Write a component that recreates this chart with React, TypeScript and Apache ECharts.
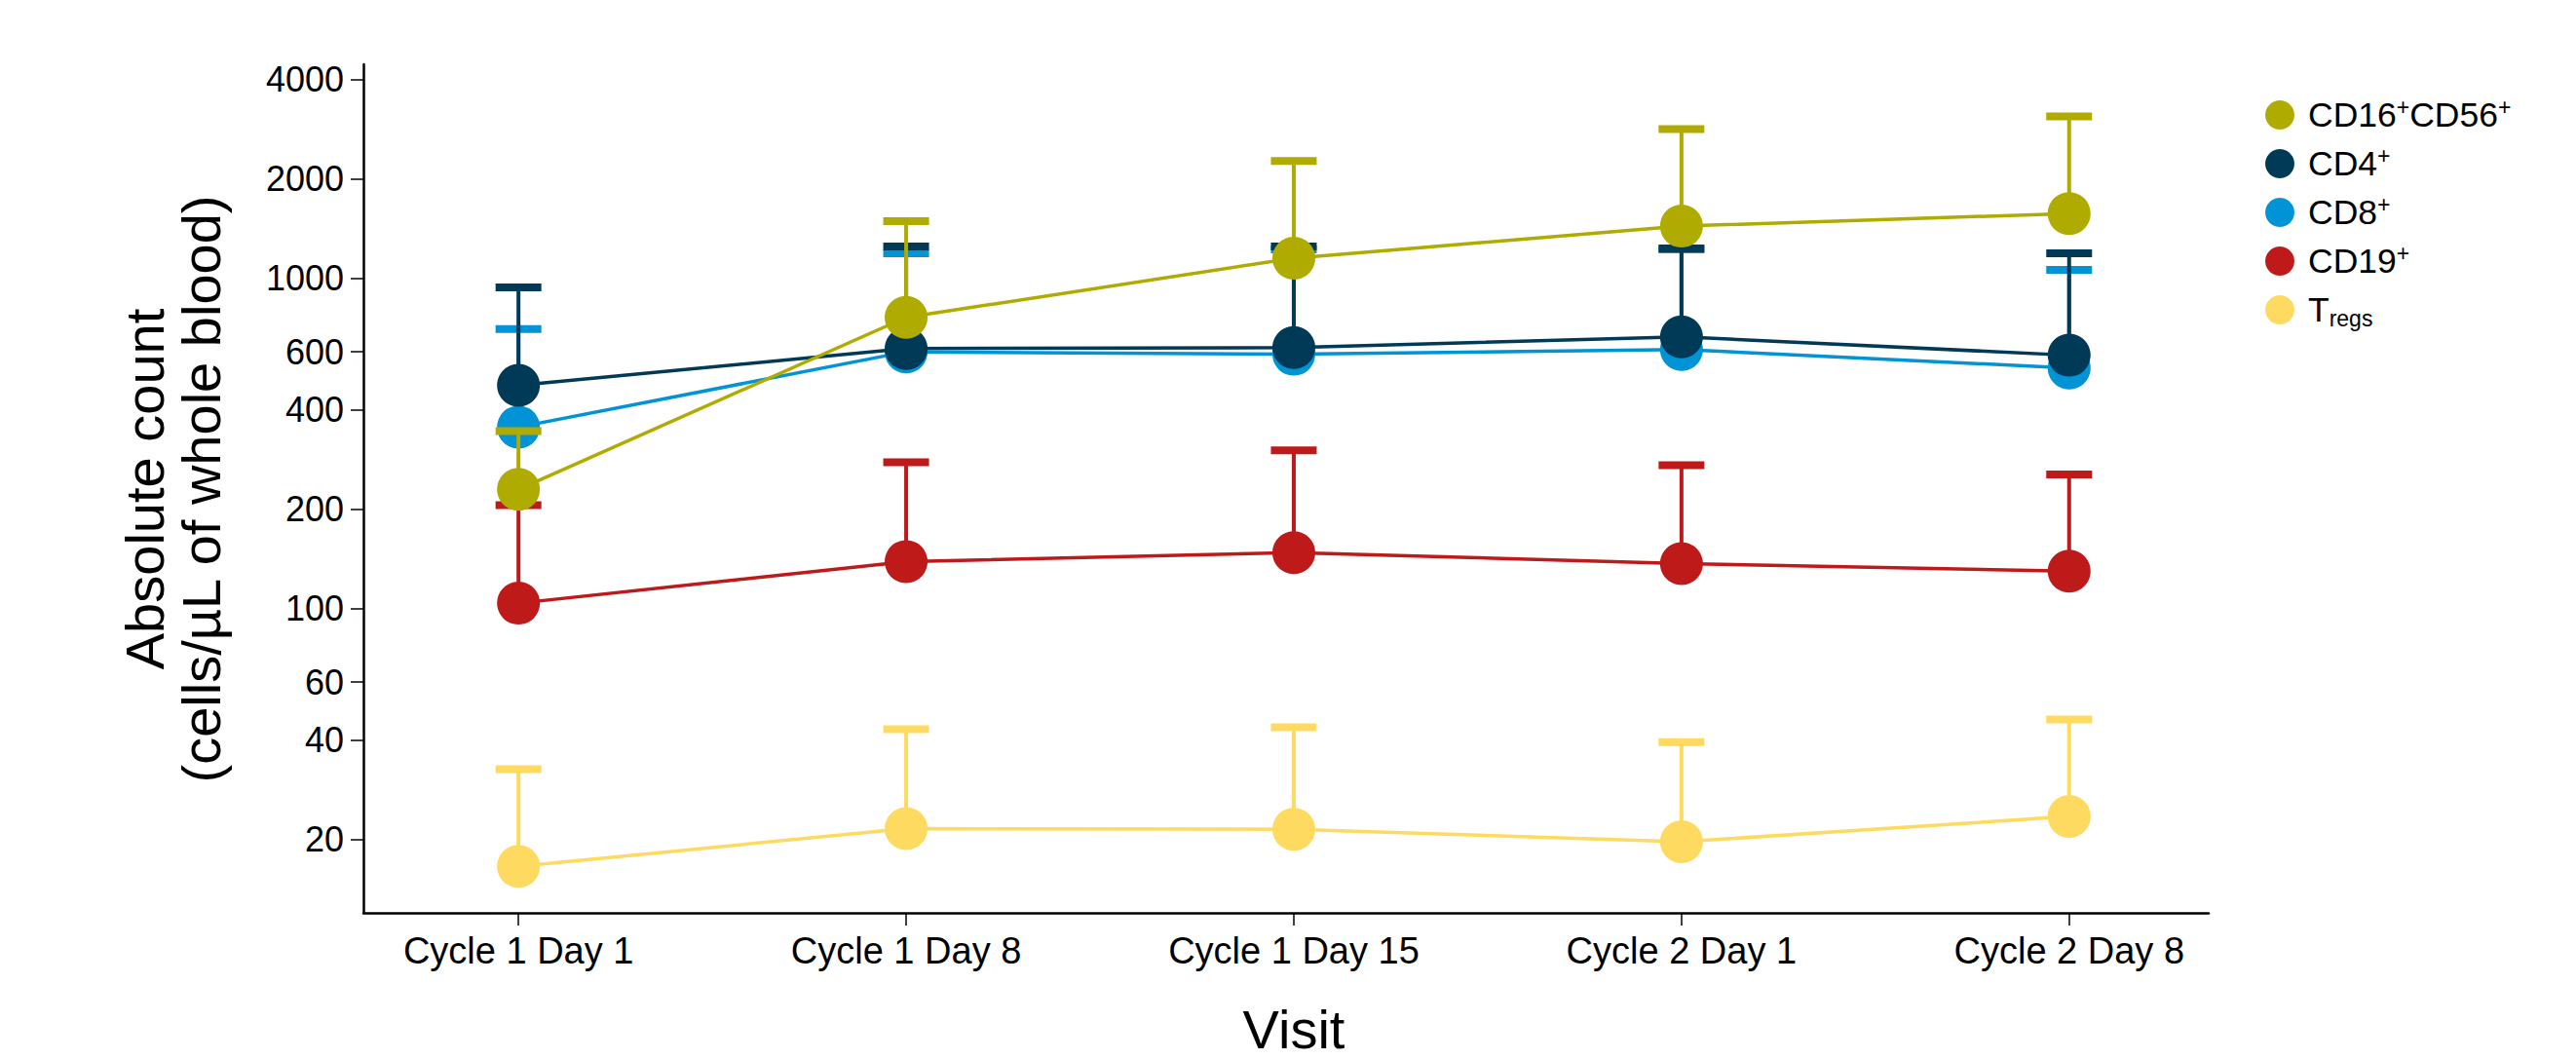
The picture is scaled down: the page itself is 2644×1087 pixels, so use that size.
import React, { useEffect, useRef } from 'react';
import * as echarts from 'echarts';

const visits = ['Cycle 1 Day 1', 'Cycle 1 Day 8', 'Cycle 1 Day 15', 'Cycle 2 Day 1', 'Cycle 2 Day 8'];
const legendOrder = ['CD16+CD56+', 'CD4+', 'CD8+', 'CD19+', 'Tregs'];

const nkMean = [230, 763, 1153, 1442, 1574];
const nkUpper = [345, 1492, 2270, 2838, 3098];
const cd4Mean = [475, 614, 618, 666, 586];
const cd4Upper = [941, 1250, 1250, 1234, 1192];
const cd8Mean = [355, 600, 590, 610, 536];
const cd8Upper = [703, 1192, 1225, 1225, 1063];
const cd19Mean = [104, 139, 148, 137, 130];
const cd19Upper = [206, 278, 302, 272, 255];
const tregMean = [16.6, 21.6, 21.5, 19.7, 23.5];
const tregUpper = [32.7, 43.2, 43.8, 39.5, 46.2];

const yTicks = [20, 40, 60, 100, 200, 400, 600, 1000, 2000, 4000];
const yMin = 12;
const yMax = 4456;

const FONT = '"Liberation Sans", Arial, Helvetica, sans-serif';

const legendRich: Record<string, string> = {
  'CD16+CD56+': 'CD16{sup|+}CD56{sup|+}',
  'CD4+': 'CD4{sup|+}',
  'CD8+': 'CD8{sup|+}',
  'CD19+': 'CD19{sup|+}',
  'Tregs': 'T{sub|regs}',
};

export default function App() {
  const ref = useRef<HTMLDivElement>(null);
  useEffect(() => {
    document.body.style.margin = '0';
    document.body.style.overflow = 'hidden';
    const chart = echarts.init(ref.current as HTMLDivElement, null, { renderer: 'svg' });

    const groups = [
      { name: 'CD19+', color: '#BE1A1A', mean: cd19Mean, upper: cd19Upper },
      { name: 'CD8+', color: '#0093D6', mean: cd8Mean, upper: cd8Upper },
      { name: 'CD4+', color: '#003A57', mean: cd4Mean, upper: cd4Upper },
      { name: 'CD16+CD56+', color: '#AFAB00', mean: nkMean, upper: nkUpper },
      { name: 'Tregs', color: '#FFDA60', mean: tregMean, upper: tregUpper },
    ];

    const series: any[] = [];
    groups.forEach((g, i) => {
      series.push({
        type: 'custom',
        name: g.name + ' SD',
        z: 10 + i * 2,
        silent: true,
        data: g.mean.map((m, j) => [j, Math.log10(m), Math.log10(g.upper[j])]),
        encode: { x: 0, y: [1, 2] },
        renderItem: (params: any, api: any) => {
          const x = api.value(0);
          const p0 = api.coord([x, api.value(1)]);
          const p1 = api.coord([x, api.value(2)]);
          return {
            type: 'group',
            children: [
              {
                type: 'line',
                shape: { x1: p0[0], y1: p0[1], x2: p1[0], y2: p1[1] },
                style: { stroke: g.color, lineWidth: 4 },
              },
              {
                type: 'rect',
                shape: { x: p1[0] - 23.5, y: p1[1] - 4, width: 47, height: 8 },
                style: { fill: g.color },
              },
            ],
          };
        },
      });
      series.push({
        type: 'line',
        name: g.name,
        z: 11 + i * 2,
        data: g.mean.map((m, j) => [j, Math.log10(m)]),
        symbol: 'circle',
        symbolSize: 44,
        showSymbol: true,
        lineStyle: { color: g.color, width: 3.5 },
        itemStyle: { color: g.color },
        emphasis: { disabled: true },
      });
    });

    chart.setOption({
      animation: false,
      backgroundColor: '#fff',
      grid: { left: 373, top: 66, width: 1894, height: 871, containLabel: false, outerBoundsMode: 'none' },
      xAxis: {
        type: 'value',
        min: -0.4,
        max: 4.36,
        splitLine: { show: false },
        axisLine: { show: true, onZero: false, lineStyle: { color: '#000', width: 2.5 } },
        axisTick: { show: true, customValues: [0, 1, 2, 3, 4], length: 13, lineStyle: { color: '#000', width: 1.5 } },
        axisLabel: {
          customValues: [0, 1, 2, 3, 4],
          formatter: (v: number) => visits[Math.round(v)],
          fontSize: 38,
          fontFamily: FONT,
          color: '#000',
          margin: 20,
        },
      },
      yAxis: {
        type: 'value',
        min: Math.log10(yMin),
        max: Math.log10(yMax),
        splitLine: { show: false },
        axisLine: { show: true, onZero: false, lineStyle: { color: '#000', width: 2.5 } },
        axisTick: { show: true, customValues: yTicks.map((t) => Math.log10(t)), length: 13, lineStyle: { color: '#000', width: 1.5 } },
        axisLabel: {
          customValues: yTicks.map((t) => Math.log10(t)),
          formatter: (v: number) => String(Math.round(Math.pow(10, v))),
          fontSize: 36,
          fontFamily: FONT,
          color: '#000',
          margin: 20,
        },
      },
      legend: {
        data: legendOrder,
        orient: 'vertical',
        left: 2325,
        top: 98,
        padding: 0,
        icon: 'circle',
        itemWidth: 30,
        itemHeight: 30,
        itemGap: 10,
        selectedMode: false,
        formatter: (name: string) => legendRich[name] || name,
        textStyle: {
          fontSize: 35.5,
          fontFamily: FONT,
          color: '#000',
          lineHeight: 40,
          padding: [0, 0, 0, 9],
          rich: {
            sup: { fontSize: 23, fontFamily: FONT, color: '#000', verticalAlign: 'top', lineHeight: 28 },
            sub: { fontSize: 23, fontFamily: FONT, color: '#000', verticalAlign: 'bottom', lineHeight: 6 },
          },
        },
      },
      graphic: [
        {
          type: 'text',
          x: 177,
          y: 502,
          rotation: Math.PI / 2,
          style: {
            text: 'Absolute count\n(cells/µL of whole blood)',
            fontSize: 56,
            lineHeight: 58,
            fontFamily: FONT,
            fill: '#000',
            align: 'center',
            verticalAlign: 'middle',
          },
        },
        {
          type: 'text',
          x: 1328,
          y: 1056,
          style: {
            text: 'Visit',
            fontSize: 56,
            fontFamily: FONT,
            fill: '#000',
            align: 'center',
            verticalAlign: 'middle',
          },
        },
      ],
      series,
    });

    return () => {
      chart.dispose();
    };
  }, []);

  return <div ref={ref} style={{ width: 2644, height: 1087 }} />;
}
